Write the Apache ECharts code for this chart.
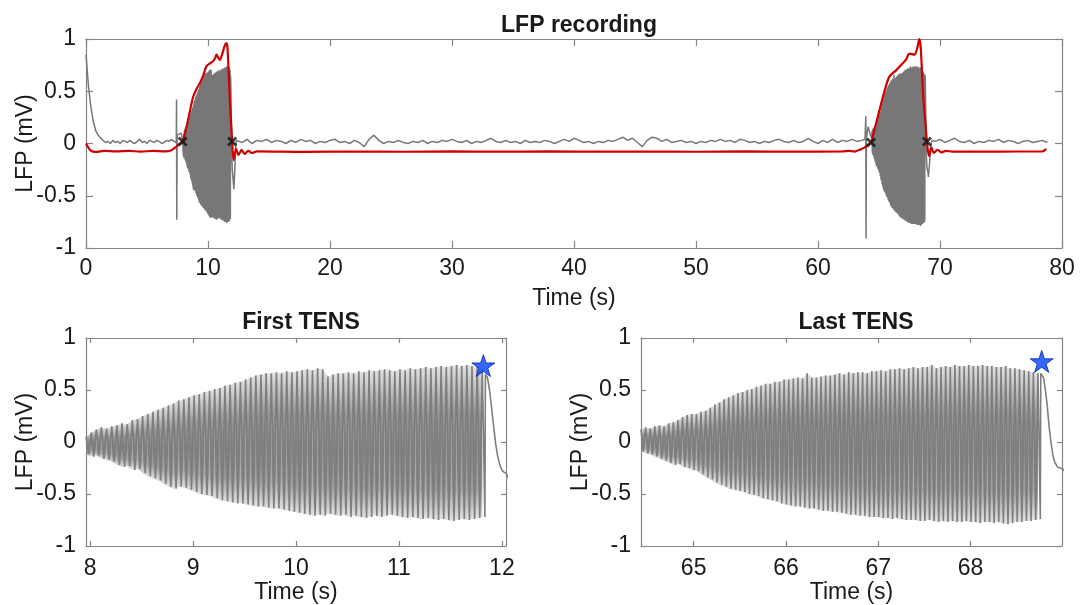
<!DOCTYPE html>
<html>
<head>
<meta charset="utf-8">
<script src="https://cdn.jsdelivr.net/npm/echarts@6/dist/echarts.min.js"></script>
<style>
html,body{margin:0;padding:0;background:#fff;}
#chart{width:1084px;height:605px;}
</style>
</head>
<body>
<div id="chart"></div>
<script>
// ---------------- DATA ----------------
const topXTicks = [0, 10, 20, 30, 40, 50, 60, 70, 80];
const yTicks = [-1, -0.5, 0, 0.5, 1];
const firstXTicks = [8, 9, 10, 11, 12];
const lastXTicks = [65, 66, 67, 68];

// stimulation cycles (one peak + one trough per 0.05 s cycle)
const cyclePeriod = 0.05;
const firstStart = 7.96;
const firstPeaks = [0.05,0.09,0.12,0.14,0.13,0.15,0.16,0.18,0.17,0.21,0.22,0.25,0.27,0.29,0.31,0.33,0.35,0.37,0.40,0.41,
  0.43,0.45,0.46,0.48,0.49,0.51,0.52,0.54,0.55,0.57,0.58,0.60,0.62,0.64,0.65,0.66,0.66,0.67,0.66,0.68,
  0.67,0.68,0.69,0.70,0.69,0.71,0.70,0.63,0.65,0.66,0.66,0.67,0.66,0.68,0.67,0.69,0.68,0.69,0.70,0.69,
  0.68,0.70,0.69,0.71,0.70,0.71,0.72,0.71,0.72,0.73,0.72,0.73,0.74,0.73,0.74,0.73,0.72,0.70];
const firstTroughs = [-0.12,-0.14,-0.13,-0.16,-0.17,-0.19,-0.22,-0.24,-0.23,-0.27,-0.26,-0.30,-0.33,-0.35,-0.37,-0.40,-0.43,-0.45,-0.43,-0.44,
  -0.46,-0.48,-0.50,-0.51,-0.52,-0.54,-0.56,-0.57,-0.58,-0.59,-0.59,-0.60,-0.61,-0.62,-0.62,-0.63,-0.64,-0.64,-0.65,-0.66,
  -0.67,-0.68,-0.69,-0.70,-0.71,-0.70,-0.71,-0.69,-0.70,-0.71,-0.70,-0.72,-0.71,-0.72,-0.73,-0.72,-0.71,-0.72,-0.71,-0.70,
  -0.71,-0.72,-0.73,-0.72,-0.73,-0.74,-0.73,-0.74,-0.75,-0.74,-0.75,-0.76,-0.75,-0.74,-0.75,-0.74,-0.73,-0.72];
const firstTail = [[11.84,0.65],[11.86,0.62],[11.88,0.50],[11.90,0.33],[11.92,0.15],[11.94,-0.02],[11.96,-0.14],[11.98,-0.22],
  [12.00,-0.27],[12.02,-0.29],[12.04,-0.30],[12.08,-0.38],[12.12,-0.44],[12.18,-0.30],[12.25,-0.08],[12.32,0.03]];

const lastStart = 64.43;
const lastPeaks = [0.12,0.14,0.13,0.15,0.16,0.15,0.18,0.19,0.21,0.24,0.26,0.27,0.27,0.29,0.30,0.33,0.36,0.38,0.41,0.43,
  0.45,0.47,0.48,0.50,0.51,0.53,0.54,0.56,0.56,0.58,0.58,0.60,0.60,0.61,0.62,0.61,0.66,0.62,0.62,0.63,
  0.64,0.64,0.65,0.66,0.65,0.67,0.66,0.67,0.67,0.66,0.68,0.68,0.69,0.68,0.70,0.70,0.71,0.70,0.71,0.72,
  0.71,0.72,0.72,0.74,0.71,0.72,0.73,0.72,0.74,0.73,0.73,0.74,0.73,0.73,0.74,0.73,0.73,0.72,0.72,0.73,
  0.71,0.71,0.70,0.69,0.68,0.67,0.66];
const lastTroughs = [-0.09,-0.11,-0.12,-0.14,-0.16,-0.18,-0.20,-0.22,-0.21,-0.24,-0.25,-0.27,-0.28,-0.31,-0.34,-0.36,-0.39,-0.41,-0.43,-0.45,
  -0.46,-0.47,-0.48,-0.50,-0.51,-0.52,-0.54,-0.55,-0.56,-0.57,-0.59,-0.60,-0.61,-0.62,-0.62,-0.63,-0.64,-0.64,-0.65,-0.66,
  -0.66,-0.67,-0.67,-0.68,-0.69,-0.70,-0.70,-0.71,-0.71,-0.72,-0.72,-0.72,-0.73,-0.73,-0.74,-0.73,-0.74,-0.75,-0.75,-0.75,
  -0.76,-0.76,-0.75,-0.76,-0.77,-0.76,-0.77,-0.76,-0.77,-0.77,-0.76,-0.77,-0.77,-0.78,-0.77,-0.77,-0.78,-0.77,-0.78,-0.79,
  -0.78,-0.77,-0.77,-0.76,-0.76,-0.75,-0.74];
const lastTail = [[68.76,0.66],[68.79,0.62],[68.81,0.50],[68.83,0.35],[68.85,0.15],[68.87,0.00],[68.89,-0.12],[68.91,-0.19],
  [68.94,-0.24],[68.97,-0.25],[69.00,-0.26],[69.05,-0.32],[69.15,-0.18],[69.25,-0.02],[69.35,0.03]];

// resting gray trace of the full recording
const restAStart = 0, restAStep = 0.2;
const restA = [0.85,0.55,0.35,0.21,0.12,0.08,0.05,0.03,0.01,0.02,0.00,0.03,0.01,0.02,0.00,0.03,0.02,0.01,0.03,0.01,
  0.00,0.02,0.04,0.01,0.02,0.00,0.03,0.02,0.01,0.03,0.02,0.00,0.01,0.03,0.02,0.04,0.02,0.01];
const spike1 = [[7.42,0.42],[7.44,-0.73],[7.47,0.08],[7.6,0.07],[7.8,0.10],[7.9,0.04]];
const restBStart = 12.4, restBStep = 0.4;
const restB = [0.03,0.01,0.04,0.00,0.03,0.02,0.04,0.01,0.03,0.02,0.00,0.03,0.01,0.04,0.02,0.03,0.00,0.02,0.01,0.03,
  0.04,0.01,0.02,0.00,0.03,0.01,-0.03,0.04,0.08,0.03,0.00,0.02,0.01,0.03,0.01,0.00,0.02,0.01,0.03,0.00,
  0.02,0.01,0.03,0.02,0.04,0.02,0.01,0.03,0.00,0.02,0.01,0.03,0.05,0.02,0.01,0.03,0.01,0.02,0.00,0.03,
  0.01,0.02,0.01,0.03,0.02,0.00,0.02,0.04,0.02,0.05,0.03,0.01,0.02,0.00,0.02,0.01,0.03,0.02,0.04,0.06,
  0.03,0.05,0.01,-0.03,0.03,0.06,0.05,0.02,0.04,0.01,0.02,0.03,0.01,0.02,0.00,0.02,0.01,0.03,0.02,0.04,
  0.02,0.03,0.01,0.04,0.03,0.01,0.02,0.00,0.02,0.01,0.03,0.04,0.02,0.01,0.03,0.01,0.02,0.05,0.02,0.00,
  0.03,0.01,0.04,0.01,0.03,0.02,0.04,0.02,0.03];
const spike2 = [[63.85,0.04],[63.92,0.26],[63.94,-0.91],[63.97,0.05],[64.1,0.16],[64.2,0.12],[64.3,0.08],[64.4,0.05]];
const restCStart = 69.6, restCStep = 0.4;
const restC = [0.02,0.04,0.01,0.03,0.05,0.02,0.01,0.03,0.00,0.02,0.01,0.03,0.02,0.04,0.01,0.03,0.02,0.00,0.02,0.03,
  0.01,0.02,0.03,0.01];

// red envelope trace
const redTrace = [[0,0.0],[0.2,-0.04],[0.4,-0.07],[0.8,-0.08],[1.5,-0.07],[2.5,-0.075],[3.5,-0.07],[4.5,-0.078],[5.5,-0.07],
  [6.5,-0.075],[6.9,-0.07],[7.3,-0.04],[7.6,-0.01],[7.92,0.02],[8.24,0.16],[8.5,0.30],[8.79,0.45],[9.05,0.52],[9.34,0.58],
  [9.6,0.65],[9.88,0.74],[10.2,0.77],[10.43,0.79],[10.6,0.82],[10.7,0.85],[10.85,0.82],[10.97,0.80],[11.15,0.85],[11.38,0.94],
  [11.5,0.96],[11.6,0.91],[11.79,0.42],[11.98,0.02],[12.1,-0.16],[12.3,-0.05],[12.5,-0.11],[12.75,-0.06],[13.0,-0.10],
  [13.3,-0.07],[13.6,-0.09],[14.0,-0.075],[18,-0.08],[22,-0.077],[26,-0.079],[30,-0.076],[34,-0.078],[38,-0.076],[42,-0.078],
  [46,-0.077],[50,-0.079],[54,-0.076],[58,-0.078],[62,-0.075],[62.5,-0.07],[63.0,-0.077],[63.4,-0.06],[63.8,-0.04],
  [64.1,-0.01],[64.35,0.01],[64.6,0.12],[65.0,0.30],[65.4,0.48],[65.85,0.64],[66.4,0.70],[66.8,0.75],[67.2,0.80],[67.5,0.86],
  [67.9,0.85],[68.15,0.92],[68.3,1.0],[68.42,0.92],[68.6,0.50],[68.8,0.20],[68.93,0.02],[69.1,-0.12],[69.3,-0.04],[69.5,-0.09],
  [69.8,-0.06],[70.1,-0.085],[70.5,-0.07],[71,-0.078],[75,-0.077],[78.4,-0.076],[78.7,-0.05]];

const crossMarks = [[7.92,0.02],[11.98,0.02],[64.35,0.01],[68.93,0.02]];
const firstStar = [[11.82,0.735]];
const lastStar = [[68.77,0.775]];

// ---------------- build series data ----------------
function zigzag(t0, dt, peaks, troughs) {
  const out = [];
  for (let i = 0; i < peaks.length; i++) {
    out.push([t0 + i * dt, peaks[i]]);
    out.push([t0 + i * dt + dt / 2, troughs[i]]);
  }
  return out;
}
// quads between consecutive cycles: [tA, tB, lowA, highA, lowB, highB]
function envelopeQuads(t0, dt, peaks, troughs) {
  const out = [];
  for (let i = 0; i < peaks.length - 1; i++) {
    out.push([t0 + i * dt, t0 + (i + 1) * dt, troughs[i], peaks[i], troughs[i + 1], peaks[i + 1]]);
  }
  return out;
}
function sampled(t0, dt, vals) { return vals.map((v, i) => [t0 + i * dt, v]); }

const band1 = zigzag(firstStart, cyclePeriod, firstPeaks, firstTroughs).concat(firstTail);
const band2 = zigzag(lastStart, cyclePeriod, lastPeaks, lastTroughs).concat(lastTail);
const quads1 = envelopeQuads(firstStart, cyclePeriod, firstPeaks, firstTroughs);
const quads2 = envelopeQuads(lastStart, cyclePeriod, lastPeaks, lastTroughs);
const fullGray = [].concat(
  sampled(restAStart, restAStep, restA), spike1, band1,
  sampled(restBStart, restBStep, restB), spike2, band2,
  sampled(restCStart, restCStep, restC));

// ---------------- styling ----------------
const FONT = '"Liberation Sans", Arial, Helvetica, sans-serif';
const AX = '#858585';
const TXT = '#1a1a1a';
const GRAY = '#7e7e7e';
const starPath = 'path://M50,0 L61.2,34.5 L97.6,34.5 L68.2,55.9 L79.4,90.5 L50,69.1 L20.6,90.5 L31.8,55.9 L2.4,34.5 L38.8,34.5 Z';
const xPath = 'path://M0,2 L2,0 L5,3 L8,0 L10,2 L7,5 L10,8 L8,10 L5,7 L2,10 L0,8 L3,5 Z';

function mainX(grid, min, max, ticks, tickLen) {
  return {
    type: 'value', gridIndex: grid, min: min, max: max, position: 'bottom',
    name: 'Time (s)', nameLocation: 'middle', nameGap: grid === 0 ? 39 : 35, nameMoveOverlap: false,
    nameTextStyle: { fontFamily: FONT, fontSize: 23, color: TXT },
    axisLine: { show: true, onZero: false, lineStyle: { color: AX, width: 1.2 } },
    axisTick: { show: true, inside: true, length: tickLen, lineStyle: { color: AX, width: 1.2 }, customValues: ticks },
    axisLabel: { show: true, margin: grid === 0 ? 9 : 11, fontFamily: FONT, fontSize: 23, color: TXT, customValues: ticks },
    splitLine: { show: false }
  };
}
function topX(grid, min, max, ticks, tickLen) {
  return {
    type: 'value', gridIndex: grid, min: min, max: max, position: 'top',
    axisLine: { show: true, onZero: false, lineStyle: { color: AX, width: 1.2 } },
    axisTick: { show: true, inside: true, length: tickLen, lineStyle: { color: AX, width: 1.2 }, customValues: ticks },
    axisLabel: { show: false, customValues: ticks },
    splitLine: { show: false }
  };
}
function mainY(grid, tickLen) {
  return {
    type: 'value', gridIndex: grid, min: -1, max: 1, interval: 0.5, position: 'left',
    name: 'LFP (mV)', nameLocation: 'middle', nameGap: 49, nameRotate: 90, nameMoveOverlap: false,
    nameTextStyle: { fontFamily: FONT, fontSize: 23, color: TXT },
    axisLine: { show: true, onZero: false, lineStyle: { color: AX, width: 1.2 } },
    axisTick: { show: true, inside: true, length: tickLen, lineStyle: { color: AX, width: 1.2 } },
    axisLabel: { show: true, margin: 10, fontFamily: FONT, fontSize: 23, color: TXT },
    splitLine: { show: false }
  };
}
function rightY(grid, tickLen) {
  return {
    type: 'value', gridIndex: grid, min: -1, max: 1, interval: 0.5, position: 'right',
    axisLine: { show: true, onZero: false, lineStyle: { color: AX, width: 1.2 } },
    axisTick: { show: true, inside: true, length: tickLen, lineStyle: { color: AX, width: 1.2 } },
    axisLabel: { show: false },
    splitLine: { show: false }
  };
}
function bandFill(xi, yi, quads) {
  return {
    type: 'custom', xAxisIndex: xi, yAxisIndex: yi, data: quads, clip: true, z: 1, silent: true,
    renderItem: function (params, api) {
      const a1 = api.coord([api.value(0), api.value(3)]);
      const b1 = api.coord([api.value(1), api.value(5)]);
      const b0 = api.coord([api.value(1), api.value(4)]);
      const a0 = api.coord([api.value(0), api.value(2)]);
      return {
        type: 'polygon',
        shape: { points: [a1, b1, b0, a0] },
        style: {
          fill: new echarts.graphic.LinearGradient(0, 0, 0, 1, [
            { offset: 0, color: 'rgba(140,140,140,0.25)' },
            { offset: 0.3, color: 'rgba(135,135,135,0.85)' },
            { offset: 0.55, color: 'rgba(130,130,130,1)' },
            { offset: 0.8, color: 'rgba(135,135,135,0.85)' },
            { offset: 1, color: 'rgba(140,140,140,0.25)' }
          ]),
          stroke: null
        }
      };
    }
  };
}

const gridBase = { containLabel: false, outerBoundsMode: 'none' };
const option = {
  animation: false,
  backgroundColor: '#ffffff',
  title: [
    { text: 'LFP recording', left: 574, top: 9, textAlign: 'center',
      textStyle: { fontFamily: FONT, fontSize: 23, fontWeight: 'bold', color: TXT } },
    { text: 'First TENS', left: 296, top: 306, textAlign: 'center',
      textStyle: { fontFamily: FONT, fontSize: 23, fontWeight: 'bold', color: TXT } },
    { text: 'Last TENS', left: 851, top: 306, textAlign: 'center',
      textStyle: { fontFamily: FONT, fontSize: 23, fontWeight: 'bold', color: TXT } }
  ],
  grid: [
    Object.assign({ left: 86, top: 39, width: 976, height: 209 }, gridBase),
    Object.assign({ left: 86, top: 338, width: 420, height: 208 }, gridBase),
    Object.assign({ left: 641, top: 338, width: 421, height: 208 }, gridBase)
  ],
  xAxis: [
    mainX(0, 0, 80, topXTicks, 7), topX(0, 0, 80, topXTicks, 7),
    mainX(1, 7.96, 12.04, firstXTicks, 5), topX(1, 7.96, 12.04, firstXTicks, 5),
    mainX(2, 64.43, 68.99, lastXTicks, 5), topX(2, 64.43, 68.99, lastXTicks, 5)
  ],
  yAxis: [
    mainY(0, 7), rightY(0, 7),
    mainY(1, 5), rightY(1, 5),
    mainY(2, 5), rightY(2, 5)
  ],
  series: [
    { type: 'line', xAxisIndex: 0, yAxisIndex: 0, data: fullGray, showSymbol: false, symbol: 'none',
      lineStyle: { color: '#777777', width: 1.5 }, z: 2 },
    { type: 'line', xAxisIndex: 0, yAxisIndex: 0, data: redTrace, showSymbol: false, symbol: 'none', smooth: 0.3,
      lineStyle: { color: '#d10000', width: 2.2 }, z: 3 },
    { type: 'scatter', xAxisIndex: 0, yAxisIndex: 0, data: crossMarks, symbol: xPath, symbolSize: 10,
      itemStyle: { color: '#111111' }, z: 4 },
    bandFill(2, 2, quads1),
    { type: 'line', xAxisIndex: 2, yAxisIndex: 2, data: band1, showSymbol: false, symbol: 'none',
      lineStyle: { color: GRAY, width: 1.6 }, z: 2 },
    { type: 'scatter', xAxisIndex: 2, yAxisIndex: 2, data: firstStar, symbol: starPath, symbolSize: 23,
      symbolKeepAspect: true, itemStyle: { color: '#0044ff', borderColor: '#0022aa', borderWidth: 1 }, z: 5 },
    bandFill(4, 4, quads2),
    { type: 'line', xAxisIndex: 4, yAxisIndex: 4, data: band2, showSymbol: false, symbol: 'none',
      lineStyle: { color: GRAY, width: 1.6 }, z: 2 },
    { type: 'scatter', xAxisIndex: 4, yAxisIndex: 4, data: lastStar, symbol: starPath, symbolSize: 23,
      symbolKeepAspect: true, itemStyle: { color: '#0044ff', borderColor: '#0022aa', borderWidth: 1 }, z: 5 }
  ]
};

const chart = echarts.init(document.getElementById('chart'), null, { renderer: 'canvas' });
chart.setOption(option);
</script>
</body>
</html>
